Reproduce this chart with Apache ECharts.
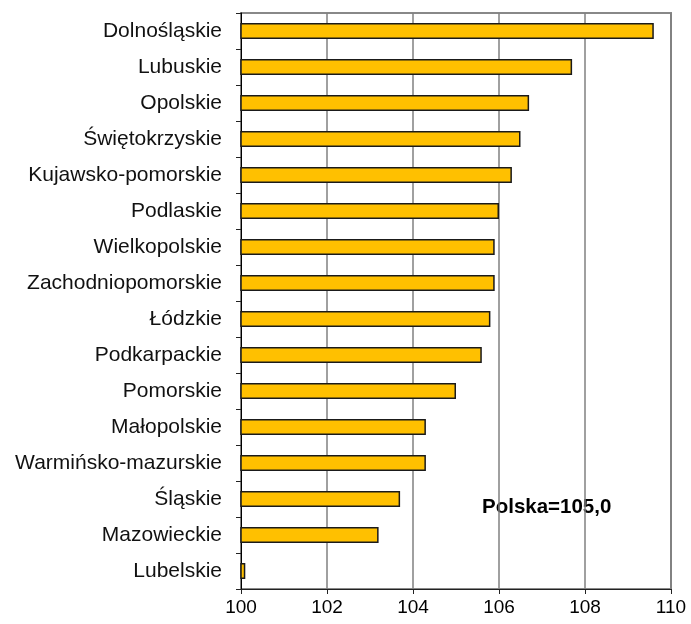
<!DOCTYPE html>
<html>
<head>
<meta charset="utf-8">
<script src="https://cdn.jsdelivr.net/npm/echarts@6/dist/echarts.min.js"></script>
<style>
  html, body { margin: 0; padding: 0; background: #fff; }
  #chart { width: 691px; height: 624px; }
</style>
</head>
<body>
<div id="chart"></div>
<script>
// województwa, od góry
const regions = [
  "Dolnośląskie", "Lubuskie", "Opolskie", "Świętokrzyskie",
  "Kujawsko-pomorskie", "Podlaskie", "Wielkopolskie", "Zachodniopomorskie",
  "Łódzkie", "Podkarpackie", "Pomorskie", "Małopolskie",
  "Warmińsko-mazurskie", "Śląskie", "Mazowieckie", "Lubelskie"
];
const values = [
  109.6, 107.7, 106.7, 106.5,
  106.3, 106.0, 105.9, 105.9,
  105.8, 105.6, 105.0, 104.3,
  104.3, 103.7, 103.2, 100.1
];
const xMin = 100;
const xMax = 110;
const xStep = 2;
const note = "Polska=105,0";

const myChart = echarts.init(document.getElementById("chart"));
const option = {
  animation: false,
  textStyle: { fontFamily: "Liberation Sans, Arial, sans-serif" },
  grid: {
    left: 241, right: 20, top: 13, bottom: 35,
    show: true, borderColor: "#888", borderWidth: 2
  },
  xAxis: {
    type: "value",
    min: xMin, max: xMax, interval: xStep,
    axisLine: { show: true, lineStyle: { color: "#222", width: 1 } },
    axisTick: { show: true, length: 5, lineStyle: { color: "#222" } },
    axisLabel: { color: "#000", fontSize: 19, margin: 9 },
    splitLine: { show: true, lineStyle: { color: "#808080", width: 1.5 } }
  },
  yAxis: {
    type: "category",
    inverse: true,
    data: regions,
    axisLine: { show: true, lineStyle: { color: "#000", width: 1 } },
    axisTick: { show: true, length: 5, lineStyle: { color: "#222" } },
    axisLabel: { color: "#111", fontSize: 21, margin: 19 }
  },
  series: [
    {
      type: "bar",
      data: values,
      barWidth: 16,
      itemStyle: { color: "#FFC000", borderColor: "#1a1a1a", borderWidth: 1.5 }
    }
  ],
  graphic: [
    {
      type: "text",
      left: 482,
      top: 497,
      style: { text: note, fontSize: 20.5, fontWeight: "bold", fill: "#000",
        fontFamily: "Liberation Sans, Arial, sans-serif" }
    }
  ]
};
myChart.setOption(option);
window.addEventListener("resize", function () {
  myChart.resize();
});
</script>
</body>
</html>
